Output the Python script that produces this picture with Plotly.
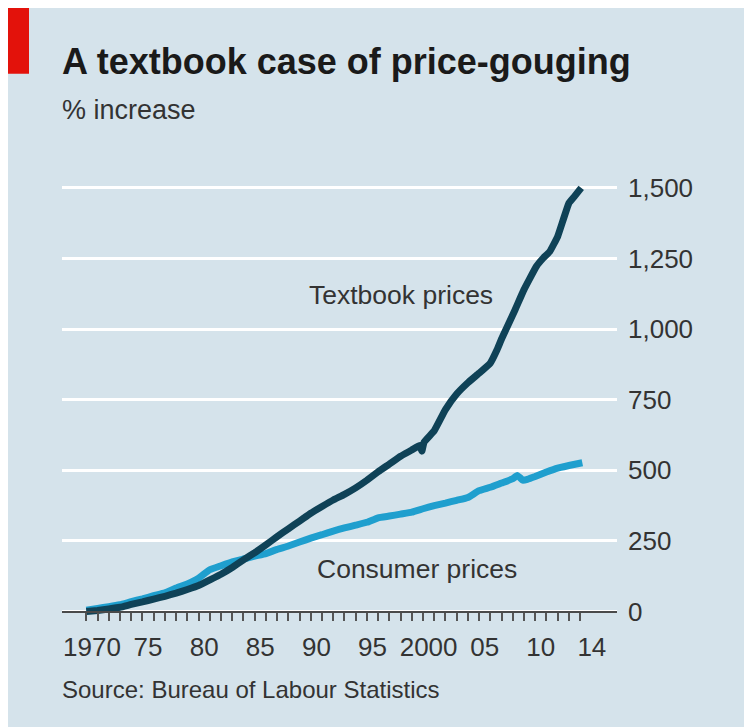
import plotly.graph_objects as go

# ---------------- data ----------------
textbook_t = [1970.0, 1971.0, 1972.0, 1973.0, 1974.0, 1975.0, 1976.0, 1977.0, 1978.0, 1979.0,
              1980.0, 1981.0, 1982.0, 1983.0, 1984.0, 1985.0, 1986.0, 1987.0, 1988.0, 1989.0,
              1990.0, 1991.0, 1992.0, 1993.0, 1994.0, 1995.0, 1996.0, 1997.0, 1998.0, 1999.0,
              1999.7, 1999.9, 2000.1, 2001.0, 2002.0, 2003.0, 2004.0, 2005.0, 2006.0, 2006.6,
              2007.0, 2008.2, 2009.0, 2010.1, 2010.7, 2011.3, 2012.0, 2013.0, 2013.5, 2014.1]
textbook_v = [0, 4, 9, 15, 25, 34, 44, 54, 65, 78,
              92, 112, 132, 156, 183, 208, 236, 265, 293, 320,
              348, 372, 395, 415, 438, 465, 495, 522, 550, 572,
              588, 568, 600, 640, 715, 770, 810, 844, 880, 927,
              965, 1068, 1140, 1222, 1251, 1275, 1328, 1446, 1470, 1500]

consumer_t = [1970.0, 1971.0, 1972.0, 1973.0, 1974.0, 1975.0, 1976.0, 1977.0, 1978.0, 1979.0,
              1980.0, 1981.0, 1982.0, 1983.0, 1984.0, 1985.0, 1986.0, 1987.0, 1988.0, 1989.0,
              1990.0, 1991.0, 1992.0, 1993.0, 1994.0, 1995.0, 1996.0, 1997.0, 1998.0, 1999.0,
              2000.0, 2001.0, 2002.0, 2003.0, 2004.0, 2005.0, 2006.0, 2007.0, 2008.0, 2008.4,
              2008.7, 2008.9, 2009.3, 2010.0, 2011.0, 2012.0, 2013.0, 2014.2]
consumer_v = [5, 11, 17, 24, 35, 45, 56, 66, 83, 98,
              118, 148, 162, 176, 186, 196, 205, 220, 232, 246,
              260, 272, 285, 296, 306, 316, 332, 338, 345, 352,
              364, 375, 384, 394, 404, 428, 440, 455, 470, 482,
              472, 465, 468, 478, 494, 508, 517, 527]

year_ticks = list(range(1970, 2015))
label_pos = [1970.5, 1975.5, 1980.5, 1985.5, 1990.5, 1995.5, 2000.5, 2005.5, 2010.5, 2015.05]
label_text = ["1970", "75", "80", "85", "90", "95", "2000", "05", "10", "14"]
y_ticks = [0, 250, 500, 750, 1000, 1250, 1500]
y_text = ["0", "250", "500", "750", "1,000", "1,250", "1,500"]

# ---------------- styling ----------------
BG = "#d5e3eb"
DARK = "#0f4257"
CYAN = "#1f9fce"
TXT = "#333333"
FONT = "Liberation Sans, Arial, sans-serif"

W_PX, H_PX = 752, 727
OFF = 8  # page body margin: the figure is drawn 8px right/down of the window corner
L, R_EDGE = 62 - OFF, 617 - OFF
TOP, BOT = 171.2 - OFF, 620.2 - OFF
PW, PH = R_EDGE - L, BOT - TOP


def px_x(px):
    return (px - OFF - L) / PW


def px_y(py):
    return (BOT - (py - OFF)) / PH


fig = go.Figure()
fig.add_trace(go.Scatter(x=consumer_t, y=consumer_v, mode="lines",
                         line=dict(color=CYAN, width=7, shape="spline", smoothing=0.3),
                         hoverinfo="skip", showlegend=False))
fig.add_trace(go.Scatter(x=textbook_t, y=textbook_v, mode="lines",
                         line=dict(color=DARK, width=7, shape="spline", smoothing=0.3),
                         hoverinfo="skip", showlegend=False))

fig.update_layout(
    width=W_PX, height=H_PX, autosize=False,
    paper_bgcolor=BG, plot_bgcolor=BG,
    margin=dict(l=L, r=W_PX - R_EDGE, t=TOP, b=H_PX - BOT, pad=0),
    font=dict(family=FONT, color=TXT),
    showlegend=False,
    xaxis=dict(
        range=[1967.83, 2017.29],
        anchor="free", position=px_y(611.7),
        showline=True, linecolor="#4a4a4a", linewidth=2,
        showgrid=False, zeroline=False,
        tickmode="array", tickvals=label_pos, ticktext=label_text,
        ticks="", ticklabelstandoff=12,
        tickfont=dict(size=26, color=TXT, family=FONT),
        minor=dict(tickmode="array", tickvals=year_ticks, ticks="outside",
                   ticklen=8, tickwidth=1.5, tickcolor="#555555", showgrid=False),
    ),
    yaxis=dict(
        range=[-30, 1560], side="right",
        tickmode="array", tickvals=y_ticks, ticktext=y_text,
        showgrid=True, gridcolor="#ffffff", gridwidth=3,
        zeroline=False, showline=False, ticks="",
        ticklabelstandoff=10,
        tickfont=dict(size=26, color=TXT, family=FONT),
    ),
)

shapes = [
    # red tab
    dict(type="rect", xref="paper", yref="paper", x0=px_x(8), x1=px_x(29), y0=px_y(74), y1=px_y(8),
         fillcolor="#e3120b", line=dict(width=0), layer="above"),
]
fig.update_layout(shapes=shapes)

annotations = [
    dict(text="<b>A textbook case of price-gouging</b>", x=px_x(60), y=px_y(62),
         xanchor="left", yanchor="middle", font=dict(size=36, color="#1a1a1a", family=FONT)),
    dict(text="% increase", x=px_x(60), y=px_y(110),
         xanchor="left", yanchor="middle", font=dict(size=27, color=TXT, family=FONT)),
    dict(text="Textbook prices", x=px_x(401), y=px_y(295),
         xanchor="center", yanchor="middle", font=dict(size=26.5, color=TXT, family=FONT)),
    dict(text="Consumer prices", x=px_x(417), y=px_y(569),
         xanchor="center", yanchor="middle", font=dict(size=26.5, color=TXT, family=FONT)),
    dict(text="Source: Bureau of Labour Statistics", x=px_x(60), y=px_y(690),
         xanchor="left", yanchor="middle", font=dict(size=24, color=TXT, family=FONT)),
]
for a in annotations:
    a.update(xref="paper", yref="paper", showarrow=False)
fig.update_layout(annotations=annotations)

fig.write_html("out.html")
